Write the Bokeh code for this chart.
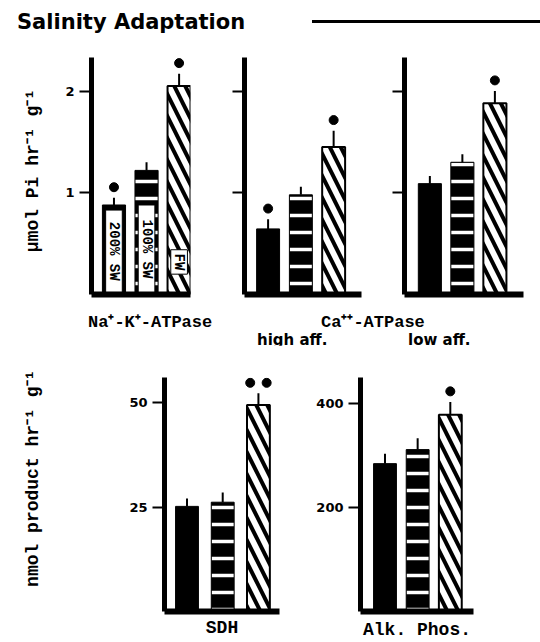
import math
from bokeh.plotting import figure
from bokeh.models import Range1d, FixedTicker, Div
from bokeh.layouts import column, row
from bokeh.embed import file_html
from bokeh.resources import INLINE
from bokeh.core.properties import value

# ---------------- data ----------------
groups = ["200% SW", "100% SW", "FW"]

naka_mean = [0.88, 1.22, 2.05]
naka_err = [0.07, 0.08, 0.12]
naka_sig = [1, 0, 1]

ca_high_mean = [0.645, 0.98, 1.45]
ca_high_err = [0.095, 0.08, 0.16]
ca_high_sig = [1, 0, 1]

ca_low_mean = [1.09, 1.30, 1.88]
ca_low_err = [0.075, 0.08, 0.12]
ca_low_sig = [0, 0, 1]

sdh_mean = [25.2, 26.2, 49.5]
sdh_err = [1.9, 2.3, 2.8]
sdh_sig = [0, 0, 2]

alk_mean = [285, 312, 379]
alk_err = [19, 22, 25]
alk_sig = [0, 0, 1]

top_ticks = [1, 2]
sdh_ticks = [25, 50]
alk_ticks = [200, 400]

# ---------------- styles ----------------
MONO = "Liberation Mono"
SANS = "DejaVu Sans"
NB = "\u00a0"

BAR_STYLES = [
    dict(fill_color="black", line_color="black", line_width=1),
    dict(fill_color="black", line_color="black", line_width=1,
         hatch_pattern="horizontal_line", hatch_color="white",
         hatch_weight=3.5, hatch_scale=17),
    dict(fill_color="white", line_color="black", line_width=2,
         hatch_pattern="left_diagonal_line", hatch_color="black",
         hatch_weight=4, hatch_scale=22),
]

# inset label boxes of the first panel (data units of that panel)
LEGEND_LO = [0.02, 0.015, 0.2]
LEGEND_HI = [0.83, 0.88, 0.44]


def panel(means, errs, sigs, ticks, *, width, height, borders, xr, yr, bar_w,
          tick_labels=True, ylabel=None, ylabel_standoff=0, ylabel_size="17px",
          xlabel=None, xlabel_size="18px", xlabel_standoff=0, legend=False):
    bl, br, bt, bb = borders
    p = figure(width=width, height=height, x_range=Range1d(*xr), y_range=Range1d(*yr),
               output_backend="svg", toolbar_location=None,
               min_border_left=bl, min_border_right=br,
               min_border_top=bt, min_border_bottom=bb)
    p.grid.visible = False
    p.outline_line_color = None

    idx = list(range(len(means)))
    for i, st in enumerate(BAR_STYLES):
        p.vbar(x=[idx[i]], top=[means[i]], bottom=0, width=bar_w, **st)

    hi = [m + e for m, e in zip(means, errs)]
    p.segment(x0=idx, y0=means, x1=idx, y1=hi, line_color="black", line_width=2)

    gap = 0.045 * yr[1]
    sx, sy = [], []
    for i, n in enumerate(sigs):
        if n == 1:
            sx.append(idx[i]); sy.append(hi[i] + gap)
        elif n == 2:
            sx += [idx[i] - 0.23, idx[i] + 0.23]; sy += [hi[i] + gap] * 2
    if sx:
        p.scatter(sx, sy, marker="circle", size=9, fill_color="black", line_color="black")

    if legend:
        mid = [(a + b) / 2 for a, b in zip(LEGEND_LO, LEGEND_HI)]
        hgt = [b - a for a, b in zip(LEGEND_LO, LEGEND_HI)]
        p.rect(x=idx, y=mid, width=bar_w * 0.72, height=hgt,
               fill_color="white", line_color="black", line_width=1)
        p.text(x=idx, y=mid, text=groups, angle=-math.pi / 2,
               text_align="center", text_baseline="middle",
               text_font=value(MONO), text_font_style="bold",
               text_font_size="14px", text_color="black")

    ya = p.yaxis[0]
    ya.ticker = FixedTicker(ticks=ticks)
    ya.axis_line_width = 5
    ya.axis_line_color = "black"
    ya.major_tick_line_width = 2
    ya.major_tick_out = 12
    ya.major_tick_in = 0
    ya.minor_tick_line_color = None
    ya.major_label_standoff = 5
    ya.major_label_text_font = SANS
    ya.major_label_text_font_style = "bold"
    ya.major_label_text_color = "black"
    ya.major_label_text_font_size = "13px"
    if not tick_labels:
        ya.major_label_overrides = {t: "" for t in ticks}
    if ylabel:
        ya.axis_label = ylabel
        ya.axis_label_text_font = MONO
        ya.axis_label_text_font_style = "bold"
        ya.axis_label_text_font_size = ylabel_size
        ya.axis_label_text_color = "black"
        ya.axis_label_standoff = ylabel_standoff

    xa = p.xaxis[0]
    xa.ticker = FixedTicker(ticks=[])
    xa.axis_line_width = 6
    xa.axis_line_color = "black"
    xa.major_tick_out = 0
    xa.major_tick_in = 0
    xa.minor_tick_line_color = None
    xa.major_label_standoff = 0
    if xlabel:
        xa.axis_label = xlabel
        xa.axis_label_text_font = MONO
        xa.axis_label_text_font_style = "bold"
        xa.axis_label_text_font_size = xlabel_size
        xa.axis_label_text_color = "black"
        xa.axis_label_text_line_height = 1.0
        xa.axis_label_standoff = xlabel_standoff
    return p


TOP_Y = (0, 2.33)

f1 = panel(naka_mean, naka_err, naka_sig, top_ticks, width=224, height=269,
           borders=(91, 34, 21, 6), xr=(-0.69, 2.35), yr=TOP_Y, bar_w=0.71,
           ylabel=NB + "µmol Pi hr⁻¹ g⁻¹", ylabel_standoff=19, ylabel_size="18px",
           legend=True)
f2 = panel(ca_high_mean, ca_high_err, ca_high_sig, top_ticks, width=160, height=269,
           borders=(20, 23, 18, 9), xr=(-0.72, 2.85), yr=TOP_Y, bar_w=0.70,
           tick_labels=False)
f3 = panel(ca_low_mean, ca_low_err, ca_low_sig, top_ticks, width=148, height=269,
           borders=(20, 9, 16, 11), xr=(-0.78, 2.88), yr=TOP_Y, bar_w=0.71,
           tick_labels=False)

f4 = panel(sdh_mean, sdh_err, sdh_sig, sdh_ticks, width=308, height=297,
           borders=(164, 29, 32, 25), xr=(-0.63, 2.59), yr=(0, 56.1), bar_w=0.64,
           ylabel=NB * 3 + "nmol product hr⁻¹ g⁻¹", ylabel_standoff=83,
           ylabel_size="18px", xlabel="SDH", xlabel_standoff=6)
f5 = panel(alk_mean, alk_err, alk_sig, alk_ticks, width=175, height=297,
           borders=(52, 10, 30, 27), xr=(-0.75, 2.71), yr=(0, 451), bar_w=0.70,
           xlabel="Alk. Phos.", xlabel_standoff=8)

title_html = (
    '<div style="position:relative;width:540px;height:36px">'
    '<span style="position:absolute;left:17px;top:12px;font-family:\'DejaVu Sans\';'
    'font-weight:bold;font-size:21px;line-height:21px;white-space:nowrap;color:black">'
    'Salinity Adaptation</span>'
    '<div style="position:absolute;left:312px;width:228px;top:20px;height:0;'
    'border-top:3px solid black"></div></div>'
)

mono = "font-family:'Liberation Mono';font-weight:bold;color:black;white-space:nowrap;"
sans = "font-family:'DejaVu Sans';font-weight:bold;color:black;white-space:nowrap;"
labels_html = (
    '<div style="position:relative;width:540px;height:40px">'
    f'<span style="position:absolute;left:88px;top:9px;{mono}font-size:17px;line-height:17px">'
    'Na⁺-K⁺-ATPase</span>'
    f'<span style="position:absolute;left:321px;top:9px;{mono}font-size:17px;line-height:17px">'
    'Ca⁺⁺-ATPase</span>'
    f'<span style="position:absolute;left:257px;top:28px;{sans}font-size:15px;line-height:15px">'
    'high aff.</span>'
    f'<span style="position:absolute;left:408px;top:28px;{sans}font-size:15px;line-height:15px">'
    'low aff.</span>'
    '</div>'
)

title = Div(text=title_html, width=540, height=36, margin=(0, 0, 0, 0))
labels = Div(text=labels_html, width=540, height=40, margin=(0, 0, 0, 0))

layout = column(title, row(f1, f2, f3), labels, row(f4, f5))

open("out.html", "w").write(file_html(layout, INLINE))
